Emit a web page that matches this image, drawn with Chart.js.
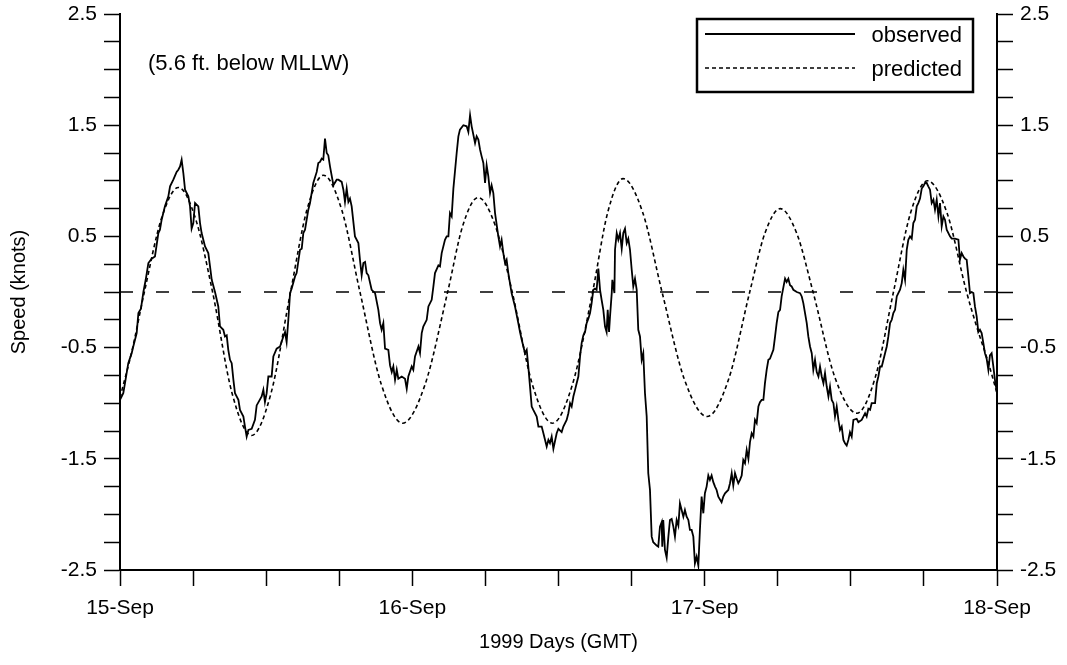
<!DOCTYPE html>
<html>
<head>
<meta charset="utf-8">
<script src="https://cdn.jsdelivr.net/npm/chart.js@4/dist/chart.umd.min.js"></script>
<style>
  html, body { margin: 0; padding: 0; background: #fff; }
  #wrap { width: 1067px; height: 665px; position: relative; }
</style>
</head>
<body>
<div id="wrap"><canvas id="c" width="1067" height="665"></canvas></div>
<script>
// ---- Data (hours since 15-Sep 00:00 GMT, speed in knots) ----
const dayLabels = ['15-Sep', '16-Sep', '17-Sep', '18-Sep'];
const yLabelValues = [-2.5, -1.5, -0.5, 0.5, 1.5, 2.5];
const seriesNames = ['observed', 'predicted'];
const noteText = '(5.6 ft. below MLLW)';

const predHours = [0, 1.0, 2.0, 3.4, 4.8, 6.2, 7.6, 9.2, 10.8, 12.4, 14.0, 15.35, 16.7, 18.2, 19.7,
  21.45, 23.2, 25.05, 26.9, 28.15, 29.4, 30.8, 32.2, 33.85, 35.5, 37.15, 38.8, 40.05, 41.3, 42.9,
  44.5, 46.35, 48.2, 49.95, 51.7, 52.95, 54.2, 55.55, 56.9, 58.7, 60.5, 62.0, 63.5, 64.9, 66.3,
  67.9, 69.5, 70.3, 71.3, 72];
const predSpeed = [-0.95, -0.52, 0, 0.66, 0.94, 0.66, 0, -0.91, -1.29, -0.91, 0, 0.74, 1.05, 0.74, 0,
  -0.83, -1.18, -0.83, 0, 0.6, 0.85, 0.6, 0, -0.83, -1.18, -0.83, 0, 0.72, 1.02, 0.72,
  0, -0.79, -1.12, -0.79, 0, 0.53, 0.75, 0.53, 0, -0.77, -1.09, -0.77, 0, 0.71, 1.0,
  0.71, 0, -0.3, -0.64, -0.91];

const obsHours = [
  0.00,0.27,0.41,0.68,0.96,1.09,1.37,1.51,1.72,1.92,2.11,2.33,2.60,2.87,3.15,3.28,3.42,3.69,3.97,4.11,
  4.38,4.65,4.79,4.93,5.06,5.20,5.34,5.61,5.75,5.88,6.02,6.16,6.43,6.57,6.70,6.98,7.25,7.39,7.53,7.80,
  8.07,8.21,8.48,8.62,8.76,8.89,9.03,9.17,9.31,9.44,9.72,9.85,10.13,10.26,10.40,10.54,10.81,11.08,11.22,11.63,
  11.77,11.90,12.04,12.18,12.45,12.59,12.86,13.14,13.41,13.55,13.68,13.82,13.96,14.09,14.37,14.50,14.78,14.92,15.05,15.19,
  15.46,15.60,15.87,16.15,16.28,16.42,16.56,16.69,16.83,16.97,17.10,17.24,17.52,17.79,
  17.93,18.20,18.34,18.47,18.61,18.75,18.88,19.02,19.29,19.57,19.70,19.84,19.98,20.12,20.25,20.39,20.66,20.94,21.21,21.35,
  21.48,21.62,21.76,22.03,22.17,22.31,22.44,22.58,22.72,22.85,23.13,23.40,23.54,23.67,23.95,24.08,24.22,24.50,24.63,24.77,
  24.90,25.18,25.32,25.59,25.73,25.86,26.14,26.27,26.41,26.68,26.82,26.96,27.09,27.23,27.37,27.64,27.78,27.91,28.19,28.46,
  28.60,28.74,28.87,29.15,29.28,29.42,29.56,29.69,29.83,29.97,30.10,30.24,30.38,30.51,30.65,30.79,31.06,31.20,31.33,31.47,
  31.61,31.74,31.88,32.15,32.43,32.70,32.84,32.98,33.25,33.39,33.52,33.66,33.80,33.93,34.21,34.35,34.62,34.76,35.03,35.17,
  35.30,35.44,35.58,
  35.85,35.99,36.26,36.40,36.67,36.81,36.95,37.08,37.22,37.36,37.49,37.63,37.77,37.90,38.04,38.18,38.31,38.45,38.59,38.72,
  38.86,39.00,39.13,39.27,39.41,39.54,39.68,39.82,39.95,40.04,40.15,40.23,40.37,40.42,40.59,40.64,40.78,40.91,41.05,41.19,
  41.32,41.46,41.60,41.73,41.87,42.01,42.14,42.28,42.42,42.55,42.69,42.83,42.96,43.10,43.24,43.37,43.51,43.65,43.78,44.06,
  44.19,44.33,44.47,44.52,44.60,44.74,44.88,45.02,45.15,45.29,45.43,45.56,45.70,45.84,45.97,46.11,46.25,46.38,46.52,46.66,
  46.79,46.93,47.07,47.20,47.34,47.48,47.61,47.75,47.89,48.02,48.16,48.30,48.43,48.57,48.71,48.85,48.98,49.12,49.39,49.53,
  49.67,49.94,50.08,50.22,50.35,50.49,50.63,50.76,50.90,51.04,51.17,51.31,51.45,51.59,51.72,51.86,52.00,52.13,52.27,52.41,
  52.54,52.68,52.82,52.95,53.09,53.23,53.36,53.64,53.78,53.91,54.05,54.19,
  54.32,54.60,54.73,54.87,55.01,55.14,55.28,55.56,55.83,55.97,56.10,56.24,56.38,56.51,56.65,56.79,56.92,57.06,57.20,57.34,
  57.47,57.61,57.75,57.88,58.02,58.16,58.29,58.43,58.57,58.70,58.84,58.98,59.11,59.25,59.39,59.52,59.66,59.80,59.93,60.07,
  60.21,60.48,60.62,60.89,61.03,61.17,61.30,61.44,61.58,61.71,61.99,62.13,62.26,62.40,62.54,62.81,62.95,63.08,63.22,63.36,
  63.49,63.63,63.77,63.90,64.04,64.18,64.31,64.45,64.59,64.72,64.86,65.00,65.13,65.27,65.41,65.54,65.68,65.82,65.95,66.09,
  66.23,66.36,66.50,66.64,66.78,66.91,67.05,67.19,67.32,67.46,67.60,67.73,67.87,68.01,68.14,68.28,68.55,68.83,68.96,69.10,
  69.24,69.37,69.51,69.65,69.78,69.92,70.06,70.19,70.33,70.47,70.60,70.74,70.88,71.01,71.15,71.29,71.42,71.56,71.70,71.83,
  72.00];
const obsSpeed = [
  -0.97,-0.91,-0.82,-0.64,-0.55,-0.49,-0.37,-0.19,-0.15,0.00,0.11,0.26,0.30,0.32,0.53,0.56,0.65,0.77,0.86,0.95,
  1.01,1.08,1.10,1.13,1.19,1.07,0.92,0.86,0.77,0.57,0.62,0.80,0.77,0.62,0.53,0.41,0.35,0.23,0.11,0.00,
  -0.13,-0.31,-0.34,-0.40,-0.39,-0.52,-0.61,-0.64,-0.79,-0.91,-0.97,-1.06,-1.12,-1.21,-1.30,-1.24,-1.23,-1.15,-1.02,-0.94,
  -0.88,-0.99,-0.91,-0.76,-0.76,-0.58,-0.51,-0.49,-0.40,-0.36,-0.45,-0.25,-0.01,0.03,0.14,0.17,0.38,0.39,0.53,0.56,
  0.74,0.80,0.98,1.08,1.16,1.17,1.20,1.19,1.38,1.25,1.23,1.13,0.96,1.01,
  1.01,0.99,0.92,0.81,0.93,0.81,0.84,0.77,0.50,0.44,0.29,0.15,0.26,0.27,0.17,0.15,0.02,-0.01,-0.16,-0.28,
  -0.34,-0.28,-0.51,-0.52,-0.66,-0.72,-0.67,-0.79,-0.70,-0.78,-0.76,-0.78,-0.87,-0.76,-0.67,-0.70,-0.58,-0.49,-0.55,-0.37,
  -0.31,-0.25,-0.13,-0.07,0.05,0.17,0.24,0.23,0.35,0.47,0.50,0.50,0.71,0.68,0.93,1.25,1.40,1.46,1.50,1.49,
  1.44,1.59,1.49,1.34,1.40,1.37,1.28,1.22,1.16,0.98,1.14,1.04,0.89,0.96,0.89,0.71,0.50,0.41,0.47,0.35,
  0.26,0.29,0.17,-0.01,-0.13,-0.28,-0.36,-0.43,-0.55,-0.52,-0.67,-0.85,-1.03,-1.06,-1.12,-1.21,-1.21,-1.27,-1.39,-1.33,
  -1.36,-1.30,-1.41,
  -1.27,-1.23,-1.26,-1.21,-1.15,-1.09,-1.00,-1.03,-0.94,-0.88,-0.82,-0.76,-0.58,-0.46,-0.39,-0.36,-0.28,-0.24,-0.19,-0.10,
  0.02,0.03,0.02,0.21,0.02,-0.07,-0.16,-0.31,-0.36,-0.16,-0.36,-0.22,-0.01,0.11,-0.01,0.38,0.53,0.47,0.53,0.39,
  0.53,0.57,0.44,0.48,0.38,0.20,0.05,0.12,0.02,-0.34,-0.40,-0.61,-0.55,-0.91,-1.12,-1.63,-1.78,-2.20,-2.25,-2.28,
  -2.29,-2.11,-2.07,-2.29,-2.05,-2.32,-2.39,-2.20,-2.05,-2.04,-2.11,-2.20,-2.05,-2.10,-1.90,-1.96,-2.02,-1.96,-2.02,-2.05,
  -2.14,-2.14,-2.20,-2.44,-2.38,-2.46,-2.14,-1.84,-1.99,-1.81,-1.75,-1.65,-1.69,-1.65,-1.71,-1.75,-1.78,-1.84,-1.89,-1.84,
  -1.81,-1.78,-1.72,-1.63,-1.74,-1.63,-1.68,-1.72,-1.69,-1.65,-1.51,-1.54,-1.42,-1.50,-1.35,-1.27,-1.30,-1.15,-1.18,-1.03,
  -0.99,-0.97,-0.97,-0.82,-0.70,-0.61,-0.60,-0.52,-0.40,-0.28,-0.18,-0.16,
  -0.04,0.12,0.09,0.12,0.06,0.05,0.02,0.00,-0.01,-0.04,-0.10,-0.19,-0.28,-0.40,-0.49,-0.55,-0.70,-0.61,-0.72,-0.76,
  -0.67,-0.76,-0.82,-0.73,-0.85,-0.94,-0.85,-0.97,-1.00,-1.12,-1.03,-1.15,-1.24,-1.21,-1.33,-1.36,-1.38,-1.33,-1.26,-1.30,
  -1.15,-1.14,-1.17,-1.15,-1.12,-1.09,-1.12,-1.05,-1.06,-1.00,-1.00,-0.82,-0.76,-0.67,-0.67,-0.55,-0.49,-0.40,-0.28,-0.25,
  -0.19,-0.16,-0.04,-0.01,0.02,0.08,0.20,0.11,0.38,0.47,0.50,0.48,0.62,0.65,0.77,0.80,0.84,0.93,0.95,0.98,
  0.98,0.95,0.92,0.80,0.83,0.74,0.83,0.68,0.80,0.59,0.68,0.65,0.56,0.53,0.50,0.48,0.48,0.47,0.29,0.35,
  0.32,0.30,0.29,0.14,-0.01,0.00,-0.01,-0.13,-0.22,-0.36,-0.34,-0.37,-0.46,-0.55,-0.60,-0.70,-0.57,-0.55,-0.67,-0.79,
  -0.91];

const zeroLine = [0, 0];
const xRange = [0, 72];

// ---- Build chart ----
const FONT = 'Liberation Sans, Arial, Helvetica, sans-serif';
const toPts = (xs, ys) => xs.map((x, i) => ({ x: x, y: ys[i] }));

const legendPlugin = {
  id: 'boxLegend',
  afterDraw(chart) {
    const ctx = chart.ctx;
    ctx.save();
    ctx.fillStyle = '#000';
    ctx.textBaseline = 'middle';
    ctx.textAlign = 'left';
    ctx.font = '22px ' + FONT;
    ctx.fillText(noteText, 148, 64);
    // legend box
    ctx.lineWidth = 2.5;
    ctx.strokeStyle = '#000';
    ctx.setLineDash([]);
    ctx.strokeRect(697, 19, 276, 73);
    const rows = [34, 68];
    ctx.font = '22px ' + FONT;
    chart.data.datasets.slice(0, 2).forEach((ds, i) => {
      const y = rows[i];
      ctx.beginPath();
      ctx.lineWidth = ds.borderWidth;
      ctx.setLineDash(ds.borderDash || []);
      ctx.moveTo(705, y);
      ctx.lineTo(855, y);
      ctx.stroke();
      ctx.setLineDash([]);
      ctx.textAlign = 'right';
      ctx.fillText(ds.label, 962, y + 2);
    });
    ctx.restore();
  }
};

const axisCommon = {
  type: 'linear',
  min: -2.5,
  max: 2.5,
  grid: { drawOnChartArea: false, drawTicks: true, tickLength: 16, tickWidth: 1.5, tickColor: '#000' },
  border: { display: true, color: '#000', width: 2 },
  ticks: {
    stepSize: 0.25,
    autoSkip: false,
    padding: 7,
    color: '#000',
    font: { family: FONT, size: 21 },
    callback: (v) => (yLabelValues.some(t => Math.abs(t - v) < 1e-6) ? v.toFixed(1) : '')
  }
};

function fixWidth(w) {
  return (s) => { s.width = w; s.paddingTop = 0; s.paddingBottom = 0; };
}

new Chart(document.getElementById('c'), {
  type: 'line',
  data: {
    datasets: [
      {
        label: seriesNames[0],
        data: toPts(obsHours, obsSpeed),
        borderColor: '#000',
        borderWidth: 1.8,
        pointRadius: 0,
        tension: 0,
        yAxisID: 'y'
      },
      {
        label: seriesNames[1],
        data: toPts(predHours, predSpeed),
        borderColor: '#000',
        borderWidth: 1.6,
        borderDash: [4, 3],
        pointRadius: 0,
        cubicInterpolationMode: 'monotone',
        yAxisID: 'y'
      },
      {
        label: 'zero',
        data: toPts(xRange, zeroLine),
        borderColor: '#000',
        borderWidth: 1.5,
        borderDash: [13, 23],
        pointRadius: 0,
        tension: 0,
        yAxisID: 'y'
      }
    ]
  },
  options: {
    responsive: false,
    animation: false,
    devicePixelRatio: 1,
    layout: { padding: { top: 14, left: 0, right: 0, bottom: 0 } },
    plugins: { legend: { display: false }, tooltip: { enabled: false } },
    scales: {
      x: {
        type: 'linear',
        min: 0,
        max: 72,
        grid: { drawOnChartArea: false, drawTicks: true, tickLength: 16, tickWidth: 1.5, tickColor: '#000' },
        border: { display: true, color: '#000', width: 2 },
        ticks: {
          stepSize: 6,
          autoSkip: false,
          maxRotation: 0,
          padding: 10,
          color: '#000',
          font: { family: FONT, size: 21 },
          callback: (v) => (v % 24 === 0 ? dayLabels[v / 24] : '')
        },
        title: {
          display: true,
          text: '1999 Days (GMT)',
          color: '#000',
          font: { family: FONT, size: 20 },
          padding: { top: 4, bottom: 11 }
        },
        afterFit: (s) => { s.height = 95; }
      },
      y: Object.assign({}, axisCommon, {
        position: 'left',
        title: {
          display: true,
          text: 'Speed (knots)',
          color: '#000',
          font: { family: FONT, size: 20 },
          padding: { top: 7, bottom: 0 }
        },
        afterFit: fixWidth(120)
      }),
      y2: Object.assign({}, axisCommon, {
        position: 'right',
        ticks: Object.assign({}, axisCommon.ticks, { padding: 7 }),
        afterFit: fixWidth(70)
      })
    }
  },
  plugins: [legendPlugin]
});
</script>
</body>
</html>
